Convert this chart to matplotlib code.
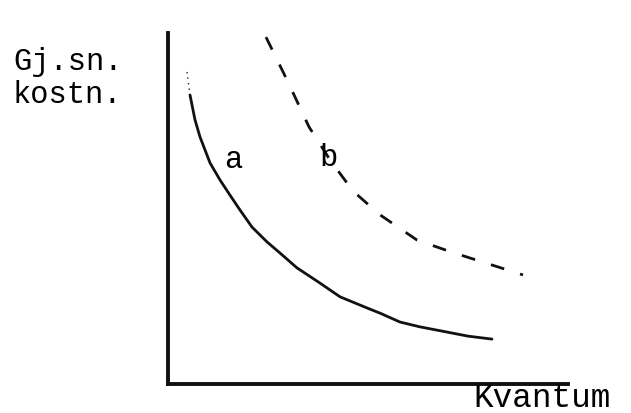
import matplotlib
matplotlib.use("Agg")
import matplotlib.pyplot as plt

# kurve a (gjennomsnittskostnad, lav) og kurve b (stiplet, hoy)
a_x = [4.75, 5.5, 6.75, 8.0, 10.5, 13.0, 15.5, 18.0, 21.0, 24.75, 28.0,
       32.25, 38.0, 43.0, 49.75, 53.0, 58.0, 63.0, 69.75, 75.0, 81.0]
a_y = [84.1, 77.9, 71.2, 66.6, 59.6, 55.0, 50.9, 46.9, 42.3, 38.3, 35.3,
       31.3, 27.2, 23.5, 20.5, 19.1, 16.7, 15.4, 14.0, 12.9, 12.1]

b_x = [24.5, 30.0, 35.25, 40.5, 46.25, 53.0, 62.25, 70.75, 88.75]
b_y = [93.5, 81.4, 69.3, 60.4, 52.0, 45.6, 38.8, 35.6, 29.4]

curve_labels = ["a", "b"]
label_x = [16.25, 40.0]
label_y = [60.4, 61.0]

y_label = ["Gj.sn.", "kostn."]
x_label = "Kvantum"

font = "Liberation Mono"

fig = plt.figure(figsize=(6.31, 4.13), dpi=100)
ax = fig.add_axes([168 / 631, 29 / 413, 400 / 631, 371 / 413])
ax.set_xlim(0, 100)
ax.set_ylim(0, 100)

# kurve a: svak prikket start, deretter heltrukket
ax.plot(a_x[:2], a_y[:2], color="#222", lw=1.0, ls=(0, (1, 3)))
ax.plot(a_x[1:], a_y[1:], color="#111", lw=2.0, solid_capstyle="round",
        solid_joinstyle="round")

# kurve b: stiplet
line_b, = ax.plot(b_x, b_y, color="#111", lw=2.0)
line_b.set_dashes((5, 6))

for lab, lx, ly in zip(curve_labels, label_x, label_y):
    ax.text(lx, ly, lab, family=font, fontsize=22, ha="center", va="center")

for s in ["top", "right"]:
    ax.spines[s].set_visible(False)
for s in ["left", "bottom"]:
    ax.spines[s].set_linewidth(2.8)
    ax.spines[s].set_color("#111")
ax.spines["left"].set_bounds(0, 94.6)
ax.set_xticks([])
ax.set_yticks([])
ax.patch.set_alpha(0)

fig.text(13 / 631, 1 - 70 / 413, y_label[0], family=font, fontsize=22, va="baseline")
fig.text(13 / 631, 1 - 103 / 413, y_label[1], family=font, fontsize=22, va="baseline")
fig.text(473 / 631, 1 - 407 / 413, x_label, family=font, fontsize=23.5, va="baseline")

fig.savefig("out.png", dpi=100)
